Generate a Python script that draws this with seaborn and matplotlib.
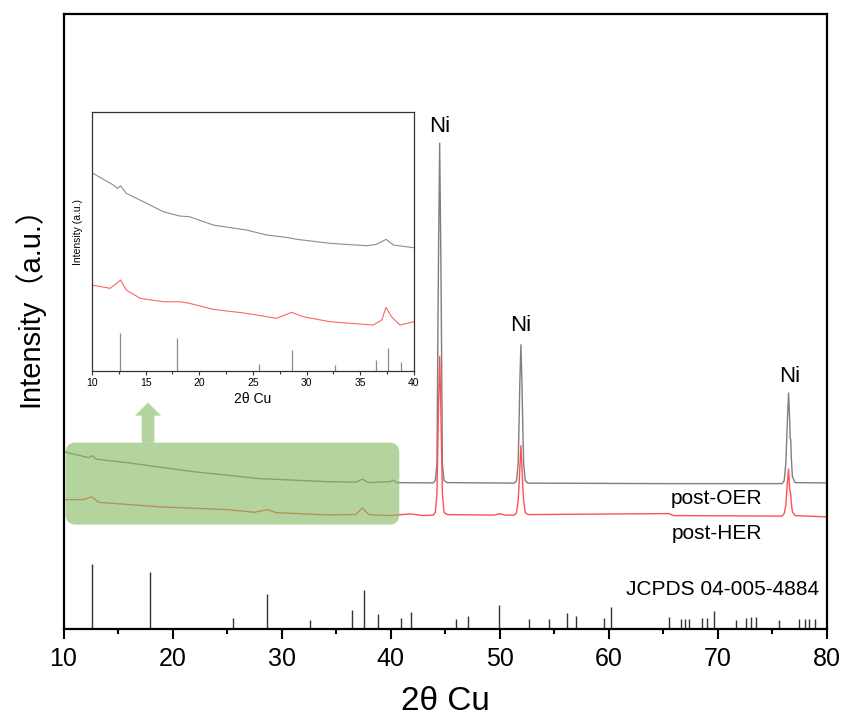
import matplotlib
matplotlib.use('Agg')
import matplotlib.pyplot as plt
from matplotlib.patches import FancyBboxPatch, FancyArrow
from matplotlib.ticker import MultipleLocator
import seaborn as sns
import pandas as pd

# post-OER pattern (2theta, intensity a.u.)
oer_2theta = [10.0, 12.3, 12.6, 13.0, 15.8, 21.9, 28.0, 34.1, 36.8, 37.4, 38.0, 40.0, 40.2, 40.6,
              43.9, 44.1, 44.25, 44.35, 44.4, 44.5, 44.6, 44.65, 44.75, 44.9, 45.2,
              51.35, 51.55, 51.7, 51.8, 51.85, 51.95, 52.05, 52.1, 52.2, 52.35, 52.6,
              65.0, 75.9, 76.1, 76.25, 76.35, 76.4, 76.5, 76.6, 76.65, 76.7, 76.75, 76.85, 77.1, 80.0]
oer_int = [177, 171, 173, 169.5, 166, 157, 150, 147, 146.5, 149.5, 146, 147, 148.5, 146,
           145.7, 148, 165, 316, 380, 485.7, 380, 316, 165, 148, 146,
           145.5, 148, 165, 215, 245, 284, 245, 215, 165, 148, 145.5,
           145, 145, 148, 165, 195, 210, 235.7, 210, 190, 189, 172, 152, 146, 145.7]

# post-HER pattern
her_2theta = [10.0, 11.8, 12.6, 13.2, 18.9, 25.0, 27.5, 28.7, 29.5, 34.1, 36.8, 37.4, 38.0, 40.0,
              41.8, 43.0, 43.9, 44.1, 44.25, 44.35, 44.4, 44.5, 44.6, 44.65, 44.75, 44.9, 45.2,
              49.5, 50.0, 50.5, 51.35, 51.55, 51.7, 51.8, 51.95, 52.1, 52.2, 52.35, 52.6,
              65.5, 66.0, 75.9, 76.1, 76.25, 76.35, 76.5, 76.6, 76.7, 76.75, 76.85, 77.1, 80.0]
her_int = [129, 129, 131.7, 126.3, 121.7, 119, 116.3, 119, 116, 113.7, 114, 120.7, 114, 113,
           114.7, 113, 113.5, 116, 135, 193, 225, 272.3, 225, 193, 135, 116, 114,
           113.5, 115, 113.5, 113.5, 116, 128, 148, 183, 148, 128, 116, 114,
           115, 113, 112.5, 115, 123, 140, 159.7, 140, 134, 126, 117, 113, 111.7]

# JCPDS 04-005-4884 reference lines
ref_2theta = [12.6, 17.96, 25.55, 28.67, 32.6, 36.5, 37.55, 38.8, 40.96, 41.9, 46.0, 47.1,
              49.93, 52.7, 54.5, 56.2, 57.0, 59.6, 60.2, 65.55, 66.6, 67.0, 67.4, 68.6, 69.0,
              69.65, 71.65, 72.6, 73.1, 73.5, 75.6, 77.5, 78.0, 78.4, 78.9]
ref_int = [65, 57, 11, 35, 9, 19, 39, 15, 11, 17, 10, 13,
           24, 10, 10, 16, 13, 11, 22, 12, 10, 10, 10, 11, 11,
           18, 9, 11, 12, 12, 9, 10, 10, 10, 10]

# inset (10-40 deg) patterns
ins_2theta = [10.0, 12.0, 12.36, 12.67, 13.2, 15.1, 16.65, 18.2, 19.1, 21.3, 24.4, 26.3,
              28.1, 29.1, 32.2, 35.6, 36.5, 37.4, 38.1, 40.0]
ins_oer = [198.3, 186, 182.7, 185.3, 177.7, 167.7, 159.3, 155, 154.3, 146, 141, 136,
           133.7, 131.7, 127.7, 125.3, 126.7, 131.7, 126, 123.3]
ins_her_2theta = [10.0, 11.7, 12.67, 13.2, 14.5, 16.65, 18.2, 19.1, 21.3, 24.4, 27.2, 28.6,
                  29.7, 32.2, 36.2, 37.0, 37.4, 37.9, 38.7, 40.0]
ins_her = [86, 82.7, 91, 81, 72.7, 69.3, 69.3, 67.7, 61.7, 57.7, 52.7, 58.7,
           54.3, 49.3, 46, 51, 63.7, 54.3, 46, 49.3]
ins_ref_2theta = [12.6, 17.96, 25.55, 28.67, 32.6, 36.5, 37.55, 38.8]
ins_ref_int = [38, 33, 7, 21, 6, 11, 23, 9]

sns.set_theme(style='ticks')
plt.rcParams['font.family'] = ['Liberation Sans', 'Noto Sans CJK SC', 'DejaVu Sans']
plt.rcParams['text.color'] = 'black'
plt.rcParams['axes.labelcolor'] = 'black'
plt.rcParams['xtick.color'] = 'black'
plt.rcParams['xtick.labelcolor'] = 'black'

fig = plt.figure(figsize=(8.46, 7.22), dpi=100)
ax = fig.add_axes([0.0751, 0.1295, 0.9021, 0.8511])

oer = pd.DataFrame({'x': oer_2theta, 'y': oer_int})
her = pd.DataFrame({'x': her_2theta, 'y': her_int})
sns.lineplot(data=oer, x='x', y='y', ax=ax, color='#7f7f7f', lw=1.0, sort=False)
sns.lineplot(data=her, x='x', y='y', ax=ax, color='#ff5050', lw=1.0, sort=False)
ax.vlines(ref_2theta, 0, ref_int, color='#333333', lw=1.0)

ax.set_xlim(10, 80)
ax.set_ylim(0, 615)
ax.set_yticks([])
ax.xaxis.set_major_locator(MultipleLocator(10))
ax.xaxis.set_minor_locator(MultipleLocator(5))
ax.tick_params(axis='x', which='major', length=7, width=1.5, labelsize=18, pad=6, color='black')
ax.tick_params(axis='x', which='minor', length=3.5, width=1.5, color='black')
for s in ax.spines.values():
    s.set_visible(True)
    s.set_linewidth(1.6)
    s.set_color('black')
ax.set_xlabel('2θ Cu', fontsize=24)
ax.set_ylabel('Intensity（a.u.）', fontsize=21)
ax.xaxis.set_label_coords(0.5, -0.093)
ax.yaxis.set_label_coords(-0.025, 0.535)

for xp, yp in [(44.5, 502), (51.9, 303), (76.6, 252)]:
    ax.text(xp, yp, 'Ni', fontsize=16, ha='center', va='center')
ax.text(69.9, 130, 'post-OER', fontsize=15, ha='center', va='center')
ax.text(69.9, 95, 'post-HER', fontsize=15, ha='center', va='center')
ax.text(79.3, 39.5, 'JCPDS 04-005-4884', fontsize=15, ha='right', va='center')

# highlight box + arrow pointing to inset
green = '#86bb62'
box = FancyBboxPatch((10.2, 104), 30.6, 82, boxstyle='round,pad=0,rounding_size=0.9',
                     mutation_aspect=11, facecolor=green, edgecolor='none', alpha=0.62, zorder=5)
ax.add_patch(box)
arrow = FancyArrow(17.75, 186, 0, 40, width=1.16, head_width=2.4, head_length=13,
                   length_includes_head=True, facecolor=green, edgecolor='none', alpha=0.62,
                   zorder=5)
ax.add_patch(arrow)

# inset
axi = fig.add_axes([0.1087, 0.4861, 0.3806, 0.3587])
axi.set_facecolor('white')
sns.lineplot(x=ins_2theta, y=ins_oer, ax=axi, color='#8c8c8c', lw=0.8, sort=False)
sns.lineplot(x=ins_her_2theta, y=ins_her, ax=axi, color='#ff6464', lw=0.8, sort=False)
axi.vlines(ins_ref_2theta, 0, ins_ref_int, color='#8c8c8c', lw=0.9)
axi.set_xlim(10, 40)
axi.set_ylim(0, 259)
axi.set_yticks([])
axi.xaxis.set_major_locator(MultipleLocator(5))
axi.xaxis.set_minor_locator(MultipleLocator(2.5))
axi.tick_params(axis='x', which='major', length=3, width=0.8, labelsize=7.5, pad=2, color='#333333')
axi.tick_params(axis='x', which='minor', length=2, width=0.8, color='#333333')
for s in axi.spines.values():
    s.set_visible(True)
    s.set_linewidth(0.9)
    s.set_color('#333333')
axi.set_xlabel('2θ Cu', fontsize=10, labelpad=3)
axi.set_ylabel('Intensity (a.u.)', fontsize=7.5)
axi.yaxis.set_label_coords(-0.028, 0.537)

fig.savefig('out.png', dpi=100)
